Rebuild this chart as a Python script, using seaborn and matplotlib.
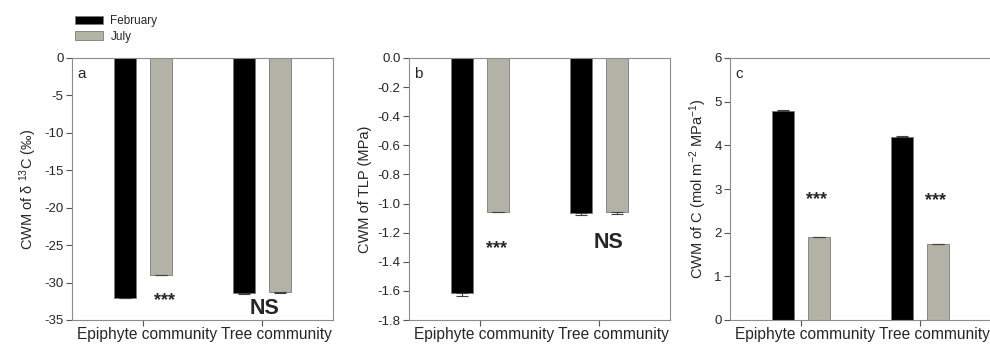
import matplotlib
matplotlib.use("Agg")
import matplotlib.pyplot as plt
import seaborn as sns
import pandas as pd
from matplotlib.patches import Patch

sns.set_theme(style="white")
plt.rcParams['font.family'] = ['Liberation Sans', 'Noto Sans CJK SC', 'DejaVu Sans']
plt.rcParams['mathtext.fontset'] = 'custom'
plt.rcParams['mathtext.rm'] = 'Liberation Sans'
plt.rcParams['mathtext.it'] = 'Liberation Sans:italic'

communities = ["Epiphyte community", "Tree community"]
months = ["February", "July"]

d13c_feb = [-32.0, -31.4]
d13c_jul = [-29.0, -31.3]
d13c_feb_err = [0.1, 0.1]
d13c_jul_err = [0.05, 0.05]

tlp_feb = [-1.615, -1.065]
tlp_jul = [-1.055, -1.06]
tlp_feb_err = [0.02, 0.015]
tlp_jul_err = [0.006, 0.012]

c_feb = [4.78, 4.19]
c_jul = [1.89, 1.73]
c_feb_err = [0.04, 0.025]
c_jul_err = [0.015, 0.015]

colors = {"February": "#000000", "July": "#b4b4a4"}

panels = [
    dict(feb=d13c_feb, jul=d13c_jul, fe=d13c_feb_err, je=d13c_jul_err,
         ylim=(-35, 0), yticks=list(range(-35, 1, 5)), fmt="{:.0f}",
         ylabel="CWM of δ $^{13}$C (‰)", letter="a",
         annots=[("***", 0.18, -32.4, 13, "bold"), ("NS", 1.02, -33.5, 15.5, "bold")]),
    dict(feb=tlp_feb, jul=tlp_jul, fe=tlp_feb_err, je=tlp_jul_err,
         ylim=(-1.8, 0), yticks=[-1.8, -1.6, -1.4, -1.2, -1.0, -0.8, -0.6, -0.4, -0.2, 0.0], fmt="{:.1f}",
         ylabel="CWM of TLP (MPa)", letter="b",
         annots=[("***", 0.14, -1.31, 13, "bold"), ("NS", 1.08, -1.27, 15.5, "bold")]),
    dict(feb=c_feb, jul=c_jul, fe=c_feb_err, je=c_jul_err,
         ylim=(0, 6), yticks=list(range(0, 7)), fmt="{:.0f}",
         ylabel="CWM of C (mol m$^{-2}$ MPa$^{-1}$)", letter="c",
         annots=[("***", 0.13, 2.75, 13, "bold"), ("***", 1.13, 2.73, 13, "bold")]),
]

fig = plt.figure(figsize=(9.9, 3.44), dpi=100)
lefts = [72/990, 409/990, 730/990]
W = 261/990
B = 1 - 320/344
H = (320 - 58)/344

spine_col = "#8c8c8c"
label_pos = [0.03, 1.12]
for p, left in zip(panels, lefts):
    ax = fig.add_axes([left, B, W, H])
    df = pd.DataFrame({
        "community": communities * 2,
        "month": ["February"] * 2 + ["July"] * 2,
        "value": p["feb"] + p["jul"],
        "err": p["fe"] + p["je"],
    })
    sns.barplot(data=df, x="community", y="value", hue="month", hue_order=months,
                order=communities, palette=colors, width=0.6, gap=0.38,
                errorbar=None, edgecolor="#7a7a7a", linewidth=0.6, legend=False, ax=ax)
    for bar_container, mon in zip(ax.containers, months):
        sub = df[df["month"] == mon].set_index("community").loc[communities]
        for rect, v, e in zip(bar_container, sub["value"], sub["err"]):
            xc = rect.get_x() + rect.get_width() / 2
            yerr = [[e], [0]] if v < 0 else [[0], [e]]
            ax.errorbar(xc, v, yerr=yerr, fmt="none", ecolor="#404040",
                        elinewidth=0.8, capsize=4, capthick=0.8, zorder=1)
    ax.set_xlim(-0.6, 1.6)
    ax.set_ylim(*p["ylim"])
    ax.set_yticks(p["yticks"])
    ax.set_yticklabels([p["fmt"].format(t) for t in p["yticks"]], fontsize=9.5)
    ax.set_xticks([0, 1])
    ax.set_xticklabels(["", ""])
    ax.set_xticks(label_pos, minor=True)
    ax.set_xticklabels(communities, minor=True, fontsize=11.2)
    ax.set_xlabel("")
    ax.set_ylabel(p["ylabel"], fontsize=10.5, labelpad=4)
    for s in ax.spines.values():
        s.set_visible(True)
        s.set_color(spine_col)
        s.set_linewidth(0.8)
    ax.tick_params(axis="both", which="major", direction="out", length=4, width=0.8,
                   color="#555555", pad=2, left=True, bottom=True)
    ax.tick_params(axis="x", which="minor", length=0, pad=5, bottom=True)
    ax.text(0.02, 0.965, p["letter"], transform=ax.transAxes, ha="left", va="top", fontsize=11)
    for txt, x, y, fs, fw in p["annots"]:
        ax.text(x, y, txt, ha="center", va="center", fontsize=fs, fontweight=fw)

handles = [Patch(facecolor=colors[m], edgecolor="#7a7a7a", linewidth=0.6, label=m) for m in months]
fig.legend(handles=handles, loc="upper left", bbox_to_anchor=(75/990, 1 - 15/344),
           frameon=False, fontsize=8.5, handlelength=2.4, handleheight=0.75,
           handletextpad=0.6, labelspacing=0.3, borderaxespad=0, borderpad=0)

fig.savefig("out.png", dpi=100)
